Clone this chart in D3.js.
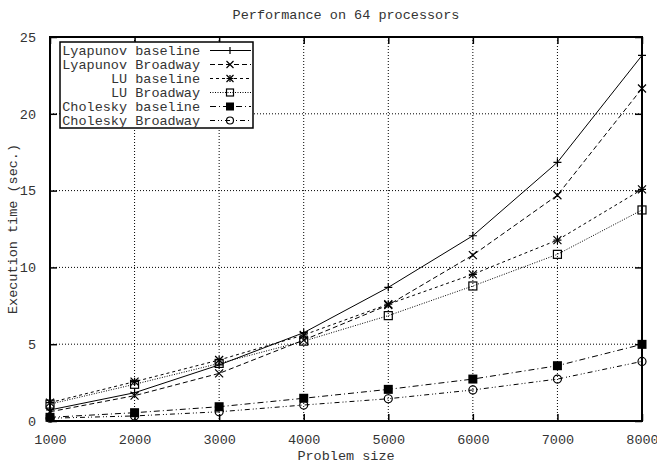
<!DOCTYPE html>
<html>
<head>
<meta charset="utf-8">
<script src="https://cdn.jsdelivr.net/npm/d3@7"></script>
<style>
body { margin: 0; background: #fff; }
text { font-family: "Liberation Mono", "DejaVu Sans Mono", monospace; font-size: 13.5px; fill: #333; }
</style>
</head>
<body>
<div id="chart"></div>
<script>
var width = 657;
var height = 466;

// problem sizes on the x axis
var sizes = [1000, 2000, 3000, 4000, 5000, 6000, 7000, 8000];

// execution times
var lyapBase = [0.72, 1.84, 3.65, 5.75, 8.7, 12.06, 16.84, 23.8];
var lyapBroad = [0.6, 1.65, 3.1, 5.27, 7.55, 10.8, 14.7, 21.65];
var luBase = [1.2, 2.56, 3.97, 5.6, 7.6, 9.55, 11.78, 15.08];
var luBroad = [1.1, 2.39, 3.75, 5.2, 6.86, 8.79, 10.85, 13.74];
var cholBase = [0.24, 0.54, 0.93, 1.48, 2.06, 2.73, 3.6, 4.99];
var cholBroad = [0.18, 0.33, 0.6, 1.04, 1.45, 2.02, 2.73, 3.88];

var seriesNames = ["Lyapunov baseline", "Lyapunov Broadway", "LU baseline", "LU Broadway", "Cholesky baseline", "Cholesky Broadway"];
var xTicks = [1000, 2000, 3000, 4000, 5000, 6000, 7000, 8000];
var yTicks = [0, 5, 10, 15, 20, 25];

var series = [
	{name: seriesNames[0], values: lyapBase, dash: null, mark: "plus"},
	{name: seriesNames[1], values: lyapBroad, dash: "5,3", mark: "cross"},
	{name: seriesNames[2], values: luBase, dash: "3,3", mark: "star"},
	{name: seriesNames[3], values: luBroad, dash: "1,1.5", mark: "box"},
	{name: seriesNames[4], values: cholBase, dash: "6,3,1,3", mark: "fbox"},
	{name: seriesNames[5], values: cholBroad, dash: "5,3,1,2,1,3", mark: "circle"}
];

var pLeft = 50, pRight = 642, pTop = 37, pBottom = 421;

var xScale = d3.scaleLinear().domain([1000, 8000]).range([pLeft, pRight]);
var yScale = d3.scaleLinear().domain([0, 25]).range([pBottom, pTop]);

var chart = d3.select("#chart")
	.append("svg")
	.attr("width", width)
	.attr("height", height);

// grid
chart.append("g")
	.selectAll("line")
	.data(xTicks.slice(1, -1))
	.enter()
	.append("line")
	.attr("x1", d => xScale(d)).attr("x2", d => xScale(d))
	.attr("y1", pTop).attr("y2", pBottom)
	.attr("stroke", "#000").attr("stroke-width", 1)
	.attr("stroke-dasharray", "1,2");

chart.append("g")
	.selectAll("line")
	.data(yTicks.slice(1, -1))
	.enter()
	.append("line")
	.attr("x1", pLeft).attr("x2", pRight)
	.attr("y1", d => yScale(d)).attr("y2", d => yScale(d))
	.attr("stroke", "#000").attr("stroke-width", 1)
	.attr("stroke-dasharray", "1,2");

// axes, ticks pointing inward
var xAxis = d3.axisBottom(xScale).tickValues(xTicks).tickSizeInner(-7).tickSizeOuter(0).tickPadding(13).tickFormat(d3.format("d"));
var yAxis = d3.axisLeft(yScale).tickValues(yTicks).tickSizeInner(-7).tickSizeOuter(0).tickPadding(14).tickFormat(d3.format("d"));
var xTop = d3.axisTop(xScale).tickValues(xTicks).tickSizeInner(-7).tickSizeOuter(0).tickFormat("");
var yRight = d3.axisRight(yScale).tickValues(yTicks).tickSizeInner(-7).tickSizeOuter(0).tickFormat("");

function styleAxis(g) {
	g.select(".domain").remove();
	g.selectAll("line").attr("stroke", "#000").attr("stroke-width", 1.5);
	g.selectAll("text").style("font-family", "Liberation Mono, monospace").style("font-size", "13.5px").attr("fill", "#333");
}

chart.append("g").attr("transform", "translate(0," + pBottom + ")").call(xAxis).call(styleAxis);
chart.append("g").attr("transform", "translate(" + pLeft + ",0)").call(yAxis).call(styleAxis);
chart.append("g").attr("transform", "translate(0," + pTop + ")").call(xTop).call(styleAxis);
chart.append("g").attr("transform", "translate(" + pRight + ",0)").call(yRight).call(styleAxis);

// legend (opaque box over the grid)
var legX = 60, legY = 42, legW = 193, legH = 86, rowH = 14;
chart.append("rect")
	.attr("x", legX).attr("y", legY).attr("width", legW).attr("height", legH)
	.attr("fill", "#fff").attr("stroke", "#000").attr("stroke-width", 1.5);

var line = d3.line()
	.x((d, i) => xScale(sizes[i]))
	.y(d => yScale(d));

function drawMark(g, type, x, y, s) {
	if (type == "plus" || type == "star") {
		g.append("path").attr("d", "M" + (x - s) + "," + y + "H" + (x + s) + "M" + x + "," + (y - s) + "V" + (y + s))
			.attr("stroke", "#000").attr("stroke-width", 1.2);
	}
	if (type == "cross" || type == "star") {
		g.append("path").attr("d", "M" + (x - s) + "," + (y - s) + "L" + (x + s) + "," + (y + s) + "M" + (x - s) + "," + (y + s) + "L" + (x + s) + "," + (y - s))
			.attr("stroke", "#000").attr("stroke-width", 1.2);
	}
	if (type == "box") {
		g.append("rect").attr("x", x - s).attr("y", y - s).attr("width", 2 * s).attr("height", 2 * s)
			.attr("fill", "none").attr("stroke", "#000").attr("stroke-width", 1.2);
	}
	if (type == "fbox") {
		g.append("rect").attr("x", x - s - 0.5).attr("y", y - s - 0.5).attr("width", 2 * s + 1).attr("height", 2 * s + 1)
			.attr("fill", "#000");
	}
	if (type == "circle") {
		g.append("circle").attr("cx", x).attr("cy", y).attr("r", s)
			.attr("fill", "none").attr("stroke", "#000").attr("stroke-width", 1.2);
	}
}

// data lines and points
var lines = chart.append("g");
series.forEach(function(s) {
	lines.append("path")
		.datum(s.values)
		.attr("d", line)
		.attr("fill", "none")
		.attr("stroke", "#000")
		.attr("stroke-width", 1)
		.attr("stroke-dasharray", s.dash);
	s.values.forEach(function(v, i) {
		drawMark(lines, s.mark, xScale(sizes[i]), yScale(v), 4);
	});
});

// legend entries
series.forEach(function(s, i) {
	var y = legY + 8.5 + i * rowH;
	chart.append("text")
		.attr("x", 200).attr("y", y).attr("dy", "0.35em")
		.style("text-anchor", "end")
		.text(s.name);
	chart.append("line")
		.attr("x1", 210).attr("x2", 251).attr("y1", y).attr("y2", y)
		.attr("stroke", "#000").attr("stroke-width", 1)
		.attr("stroke-dasharray", s.dash);
	drawMark(chart, s.mark, 230, y, 3.5);
});

// frame
chart.append("rect")
	.attr("x", pLeft).attr("y", pTop).attr("width", pRight - pLeft).attr("height", pBottom - pTop)
	.attr("fill", "none").attr("stroke", "#000").attr("stroke-width", 2);

// title and axis labels
chart.append("text")
	.attr("x", 346).attr("y", 19)
	.style("text-anchor", "middle")
	.text("Performance on 64 processors");

chart.append("text")
	.attr("x", 346).attr("y", 460)
	.style("text-anchor", "middle")
	.text("Problem size");

chart.append("text")
	.attr("transform", "translate(17," + 229 + ") rotate(-90)")
	.style("text-anchor", "middle")
	.text("Execution time (sec.)");
</script>
</body>
</html>
